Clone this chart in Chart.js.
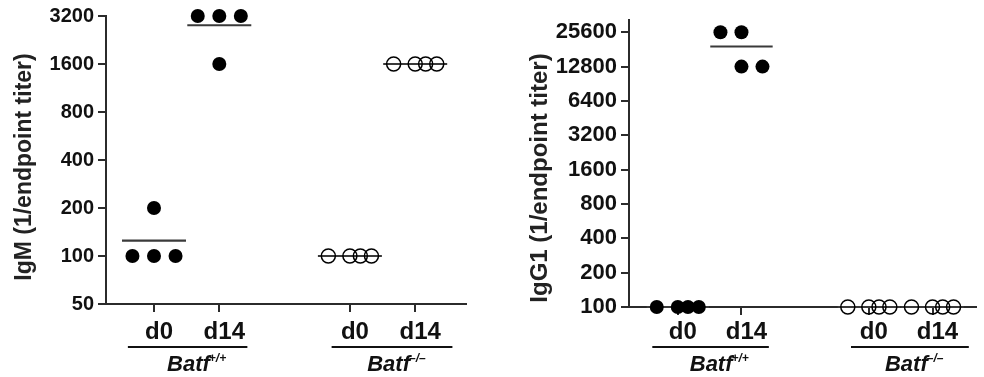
<!DOCTYPE html>
<html><head><meta charset="utf-8">
<script src="https://cdn.jsdelivr.net/npm/chart.js@4.4.1/dist/chart.umd.min.js"></script>
<style>
html,body{margin:0;padding:0;background:#fff;}
#wrap{position:relative;width:984px;height:377px;overflow:hidden;}
canvas{position:absolute;top:0;}
#c1{left:0}
#c2{left:492px}
</style></head><body>
<div id="wrap"><canvas id="c1" width="492" height="377"></canvas><canvas id="c2" width="492" height="377"></canvas></div>
<script>
// ---------- data ----------
const days = ['d0', 'd14', 'd0', 'd14'];
const genotypes = ['Batf', 'Batf'];
const genotypeSup = ['+/+', '\u2013/\u2013'];
const catPos = [1, 2, 4, 5];

const igmTitle = 'IgM (1/endpoint titer)';
const igmTicks = [50, 100, 200, 400, 800, 1600, 3200];
const igmWtD0  = [100, 100, 200, 100];
const igmWtD14 = [3200, 3200, 1600, 3200];
const igmKoD0  = [100, 100, 100, 100];
const igmKoD14 = [1600, 1600, 1600, 1600];
const igmMeans = [125, 2800, 100, 1600];

const igg1Title = 'IgG1 (1/endpoint titer)';
const igg1Ticks = [100, 200, 400, 800, 1600, 3200, 6400, 12800, 25600];
const igg1WtD0  = [100, 100, 100, 100];
const igg1WtD14 = [25600, 25600, 12800, 12800];
const igg1KoD0  = [100, 100, 100, 100];
const igg1KoD14 = [100, 100, 100, 100];
const igg1Means = [100, 19200, 100, 100];

// ---------- style ----------
const FONT = '"Liberation Sans", Arial, Helvetica, sans-serif';
const spreads = {
  split: [-0.33, 0, 0, 0.33],
  even:  [-0.33, 0, 0.16, 0.33]
};
const AX = '#2b2b2b';

const decor = {
  id: 'decor',
  afterDraw(chart, args, o) {
    const ctx = chart.ctx, xs = chart.scales.x;
    ctx.save();
    ctx.strokeStyle = '#111';
    ctx.lineWidth = 2;
    ctx.fillStyle = '#111';
    o.spans.forEach((sp, k) => {
      const x1 = xs.getPixelForValue(sp[0]), x2 = xs.getPixelForValue(sp[1]);
      ctx.beginPath(); ctx.moveTo(x1, o.lineY); ctx.lineTo(x2, o.lineY); ctx.stroke();
      ctx.textBaseline = 'alphabetic';
      ctx.textAlign = 'left';
      ctx.font = 'italic bold 22px ' + FONT;
      const w1 = ctx.measureText(genotypes[k]).width;
      ctx.font = 'italic bold 12px ' + FONT;
      const w2 = ctx.measureText(genotypeSup[k]).width;
      const cx = xs.getPixelForValue(o.labelX[k]);
      const x0 = cx - (w1 + w2) / 2;
      ctx.font = 'italic bold 22px ' + FONT;
      ctx.fillText(genotypes[k], x0, o.labelBase);
      ctx.font = 'italic bold 12px ' + FONT;
      ctx.fillText(genotypeSup[k], x0 + w1 - 1, o.labelBase - 9);
    });
    ctx.translate(o.titleX, o.titleY);
    ctx.rotate(-Math.PI / 2);
    ctx.textAlign = 'center';
    ctx.textBaseline = 'middle';
    ctx.font = 'bold ' + o.titleSize + 'px ' + FONT;
    ctx.fillStyle = '#222';
    ctx.fillText(o.title, 0, 0);
    ctx.restore();
  }
};

function makePanel(id, groups, means, ticks, cfg) {
  const datasets = [];
  groups.forEach((vals, i) => {
    const filled = i < 2;
    const sp = spreads[cfg.spread[i]];
    datasets.push({
      type: 'scatter',
      data: vals.map((v, j) => ({ x: catPos[i] + sp[j], y: v })),
      pointRadius: cfg.r,
      pointBackgroundColor: filled ? '#000' : 'rgba(0,0,0,0)',
      pointBorderColor: '#000',
      pointBorderWidth: filled ? 0 : 1.5,
      showLine: false,
      clip: false,
      order: 0
    });
    datasets.push({
      type: 'line',
      data: [{ x: catPos[i] - 0.49, y: means[i] }, { x: catPos[i] + 0.49, y: means[i] }],
      borderColor: '#3a3a3a',
      borderWidth: 2.2,
      pointRadius: 0,
      fill: false,
      clip: false,
      order: 1
    });
  });
  return new Chart(document.getElementById(id), {
    type: 'scatter',
    data: { datasets },
    options: {
      responsive: false,
      maintainAspectRatio: false,
      animation: false,
      events: [],
      layout: { padding: { top: cfg.top, right: cfg.right, left: 0, bottom: 0 } },
      plugins: {
        legend: { display: false },
        tooltip: { enabled: false },
        decor: cfg.decor
      },
      scales: {
        x: {
          type: 'linear',
          min: cfg.xmin, max: cfg.xmax,
          afterBuildTicks: s => { s.ticks = catPos.map(v => ({ value: v })); },
          afterFit: s => { s.height = cfg.xh; },
          ticks: {
            autoSkip: false, maxRotation: 0,
            callback: v => days[catPos.indexOf(v)],
            font: { family: FONT, size: 24, weight: 'bold' },
            color: '#111',
            padding: cfg.xpad,
            labelOffset: 5
          },
          grid: { drawOnChartArea: false, tickLength: 8, tickColor: AX, tickWidth: 2, color: AX, lineWidth: 2 },
          border: { color: AX, width: 2 }
        },
        y: {
          type: 'logarithmic',
          min: cfg.ymin, max: cfg.ymax,
          afterBuildTicks: s => { s.ticks = ticks.map(v => ({ value: v })); },
          afterFit: s => { s.width = cfg.yw; },
          ticks: {
            autoSkip: false,
            callback: v => String(v),
            font: { family: FONT, size: cfg.yfont, weight: 'bold' },
            color: '#111',
            padding: 4
          },
          grid: { drawOnChartArea: false, tickLength: 8, tickColor: AX, tickWidth: 2, color: AX, lineWidth: 2 },
          border: { color: AX, width: 2 }
        }
      }
    },
    plugins: [decor]
  });
}

makePanel('c1', [igmWtD0, igmWtD14, igmKoD0, igmKoD14], igmMeans, igmTicks, {
  spread: ['split', 'split', 'even', 'even'],
  r: 7, top: 16, right: 26, xh: 73, yw: 106, xpad: 6,
  xmin: 0.265, xmax: 5.778, ymin: 50, ymax: 3200, yfont: 20,
  decor: {
    spans: [[0.6, 2.43], [3.72, 5.57]], labelX: [1.66, 4.72],
    lineY: 347, labelBase: 371,
    title: igmTitle, titleX: 25, titleY: 167, titleSize: 23
  }
});

makePanel('c2', [igg1WtD0, igg1WtD14, igg1KoD0, igg1KoD14], igg1Means, igg1Ticks, {
  spread: ['even', 'split', 'even', 'even'],
  r: 7, top: 20, right: 0, xh: 70, yw: 137, xpad: 3,
  xmin: 0.234, xmax: 5.675, ymin: 100, ymax: 32768, yfont: 22,
  decor: {
    spans: [[0.6, 2.43], [3.72, 5.57]], labelX: [1.66, 4.72],
    lineY: 347, labelBase: 371,
    title: igg1Title, titleX: 48, titleY: 178, titleSize: 24
  }
});
</script>
</body></html>
